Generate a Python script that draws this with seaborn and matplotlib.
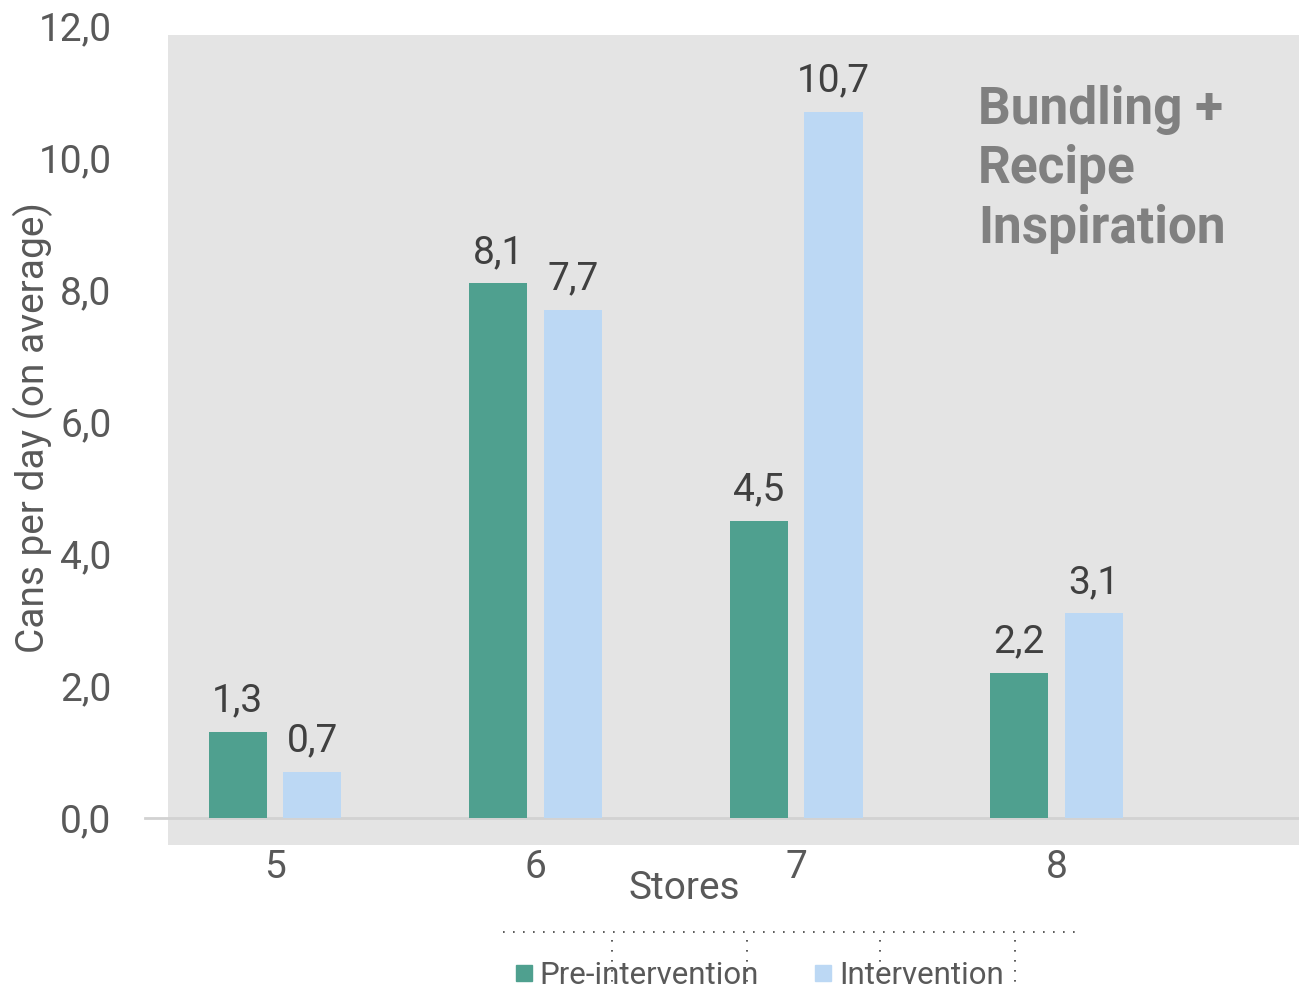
import matplotlib
matplotlib.use("Agg")
import matplotlib.pyplot as plt
from matplotlib.patches import Rectangle
from matplotlib.lines import Line2D
from matplotlib.ticker import FuncFormatter
import seaborn as sns
import pandas as pd

# Average cans sold per day, by store and period
stores = ["5", "6", "7", "8"]
pre_intervention = [1.3, 8.1, 4.5, 2.2]
intervention = [0.7, 7.7, 10.7, 3.1]
series_names = ["Pre-intervention", "Intervention"]
y_ticks = [0, 2, 4, 6, 8, 10, 12]

GREEN = "#4FA08F"
BLUE = "#BCD8F4"
TEXT = "#595959"

df = pd.DataFrame({
    "Store": stores * 2,
    "Cans": pre_intervention + intervention,
    "Period": [series_names[0]] * len(stores) + [series_names[1]] * len(stores),
})

sns.set_theme(style="white")
plt.rcParams["font.family"] = ["Roboto", "DejaVu Sans"]

W, H = 1299, 990
fig = plt.figure(figsize=(W / 100, H / 100), dpi=100)
ax = fig.add_axes([145 / W, 1 - 818 / H, (W - 145) / W, (818 - 26) / H])
ax.set_zorder(2)

# shaded plot panel behind the axes
fig.patches.append(Rectangle((168 / W, 1 - 845 / H), (W - 168) / W, (845 - 35) / H,
                             transform=fig.transFigure, facecolor="#E4E4E4",
                             edgecolor="none", zorder=0))
ax.patch.set_visible(False)

sns.barplot(data=df, x="Store", y="Cans", hue="Period", order=stores,
            hue_order=series_names, palette=[GREEN, BLUE], width=0.573, gap=0.22,
            saturation=1, ax=ax, legend=False, zorder=3, linewidth=0)

ax.set_xlim(-0.499, 3.93)
ax.set_ylim(0, 12)
ax.set_yticks(y_ticks)
ax.yaxis.set_major_formatter(FuncFormatter(lambda v, _: f"{v:.1f}".replace(".", ",")))

for side in ["top", "right", "left"]:
    ax.spines[side].set_visible(False)
ax.spines["bottom"].set_color("#D2D2D2")
ax.spines["bottom"].set_linewidth(2)
ax.spines["bottom"].set_zorder(2)

ax.tick_params(axis="y", length=0, pad=24, labelsize=28, labelcolor=TEXT)
ax.tick_params(axis="x", length=0, pad=22, labelsize=28, labelcolor=TEXT)

ax.set_xlabel("Stores", fontsize=28, color=TEXT)
ax.xaxis.set_label_coords((684 - 145) / (W - 145), -52 / (818 - 26))
ax.set_ylabel("Cans per day (on average)", fontsize=28, color=TEXT)
ax.yaxis.set_label_coords(-92 / (W - 145), (818 - 428) / (818 - 26))

for cont in ax.containers:
    ax.bar_label(cont, labels=[f"{b.get_height():.1f}".replace(".", ",") for b in cont],
                 padding=9, fontsize=28, color="#404040")

ax.text(978 / W, 1 - 85 / H, "Bundling +\nRecipe\nInspiration", transform=fig.transFigure,
        fontsize=37, fontweight="bold", color="#808080", va="top", ha="left",
        linespacing=1.24)

handles = [Line2D([], [], marker="s", linestyle="none", markersize=11.5,
                  markerfacecolor=c, markeredgecolor=c) for c in (GREEN, BLUE)]
fig.legend(handles, series_names, loc="center", bbox_to_anchor=(760 / W, 15 / H),
           ncol=2, frameon=False, fontsize=22.5, labelcolor=TEXT, handlelength=0.5,
           handletextpad=0.25, columnspacing=1.8, borderaxespad=0)

# dotted guide lines under the axis title
dot = dict(color="#404040", linestyle=(0, (1, 5)), linewidth=1.2, transform=fig.transFigure)
fig.add_artist(Line2D([503 / W, 1083 / W], [1 - 932 / H] * 2, **dot))
for xp in (612, 747, 880, 1015):
    fig.add_artist(Line2D([xp / W] * 2, [1 - 940 / H, 0], **dot))

fig.savefig("out.png", dpi=100)
